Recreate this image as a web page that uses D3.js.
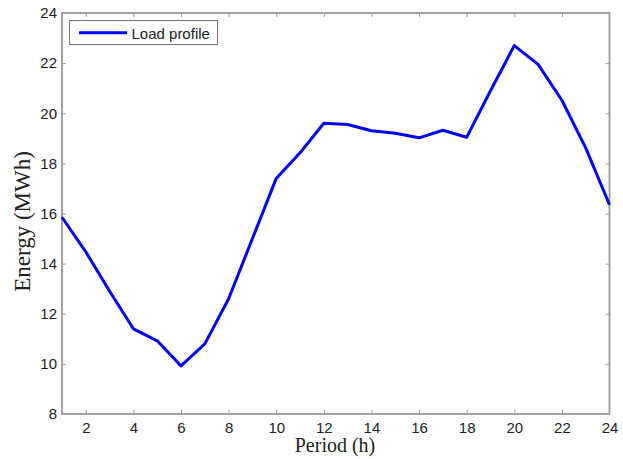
<!DOCTYPE html>
<html><head><meta charset="utf-8">
<script src="https://cdn.jsdelivr.net/npm/d3@7/dist/d3.min.js"></script>
<style>
body{margin:0;background:#fff;}
svg{display:block;}
</style></head>
<body>
<script>
const periods = [1,2,3,4,5,6,7,8,9,10,11,12,13,14,15,16,17,18,19,20,21,22,23,24];
const load = [15.85,14.47,12.9,11.4,10.92,9.92,10.8,12.6,15.0,17.4,18.42,19.6,19.55,19.3,19.2,19.02,19.32,19.04,20.9,22.7,21.95,20.52,18.62,16.35];
const xTicks = [2,4,6,8,10,12,14,16,18,20,22,24];
const yTicks = [8,10,12,14,16,18,20,22,24];
const seriesName = "Load profile";

const W=623,H=459;
const m={l:62,r:14,t:13,b:45};
const svg=d3.select("body").append("svg").attr("width",W).attr("height",H);
const x=d3.scaleLinear().domain([1,24]).range([m.l,W-m.r+0.5]);
const y=d3.scaleLinear().domain([8,24]).range([H-m.b,m.t]);
const axisColor="#9a9a9a";
const tickLen=4;

// frame
svg.append("rect").attr("x",x(1)).attr("y",y(24)).attr("width",x(24)-x(1)).attr("height",y(8)-y(24))
  .attr("fill","none").attr("stroke",axisColor).attr("stroke-width",1.8);

function styleAxis(g){
  g.select(".domain").remove();
  g.selectAll(".tick line").attr("stroke",axisColor).attr("stroke-width",1);
  g.selectAll(".tick text").attr("fill","#222").attr("font-family","Arial, 'Liberation Sans', sans-serif").attr("font-size",15);
}
const gx=svg.append("g").attr("transform",`translate(0,${y(8)})`)
  .call(d3.axisBottom(x).tickValues(xTicks).tickSize(-tickLen).tickPadding(8).tickFormat(d3.format("d")));
styleAxis(gx);
const gxt=svg.append("g").attr("transform",`translate(0,${y(24)})`)
  .call(d3.axisTop(x).tickValues(xTicks.filter(d=>d<24)).tickSize(-tickLen).tickFormat(""));
styleAxis(gxt);
const gy=svg.append("g").attr("transform",`translate(${x(1)},0)`)
  .call(d3.axisLeft(y).tickValues(yTicks).tickSize(-tickLen).tickPadding(5).tickFormat(d3.format("d")));
styleAxis(gy);
gy.selectAll(".tick line").filter(d=>d===8||d===24).remove();
const gyr=svg.append("g").attr("transform",`translate(${x(24)},0)`)
  .call(d3.axisRight(y).tickValues(yTicks.filter(d=>d>8&&d<24)).tickSize(-tickLen).tickFormat(""));
styleAxis(gyr);
gx.selectAll(".tick line").filter(d=>d===24).remove();

// line
const line=d3.line().x((d,i)=>x(periods[i])).y(d=>y(d));
svg.append("path").datum(load).attr("d",line).attr("fill","none").attr("stroke","#0000ff")
  .attr("stroke-width",3).attr("stroke-linejoin","round");

// labels
svg.append("text").attr("x",335).attr("y",452).attr("text-anchor","middle")
  .attr("font-family","'Liberation Serif','Times New Roman',serif").attr("font-size",20).attr("fill","#222").text("Period (h)");
svg.append("text").attr("transform",`translate(30,221.5) rotate(-90)`).attr("text-anchor","middle")
  .attr("font-family","'Liberation Serif','Times New Roman',serif").attr("font-size",23).attr("fill","#222").text("Energy (MWh)");

// legend
const lg=svg.append("g");
lg.append("rect").attr("x",69.5).attr("y",20.5).attr("width",148).attr("height",24)
  .attr("fill","#fff").attr("stroke","#777").attr("stroke-width",1);
lg.append("line").attr("x1",79).attr("x2",127).attr("y1",32.7).attr("y2",32.7).attr("stroke","#0000ff").attr("stroke-width",3);
lg.append("text").attr("x",131.5).attr("y",39).attr("font-family","Arial, 'Liberation Sans', sans-serif")
  .attr("font-size",15).attr("fill","#222").text(seriesName);
</script>
</body></html>
